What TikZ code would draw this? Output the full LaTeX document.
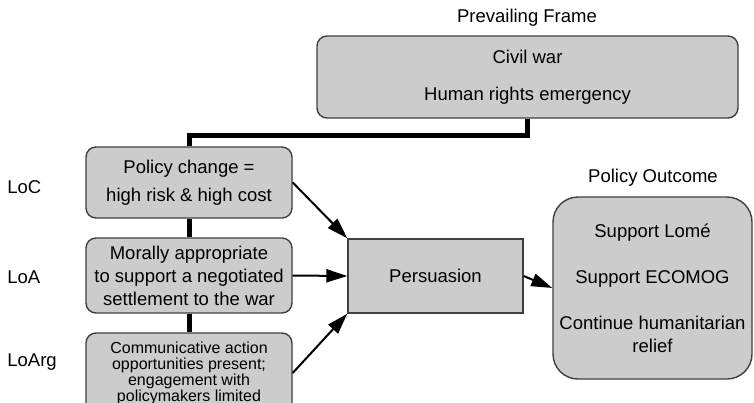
\documentclass[tikz,border=0pt]{standalone}
\usepackage{fontspec}
\setmainfont{Liberation Sans}
\usetikzlibrary{arrows.meta}

\tikzset{
  box/.style={draw=black!75, line width=0.7pt, fill=gray!40, rounded corners=5pt,
    align=center, inner sep=0pt, font=\fontsize{9.25}{11.5}\selectfont},
  link/.style={line width=2.5pt},
  push/.style={line width=1pt, -{Triangle[length=10.5pt,width=6.5pt]}},
  lbl/.style={font=\fontsize{9.25}{11}\selectfont, inner sep=0pt}
}

\begin{document}
\begin{tikzpicture}[x=0.5pt,y=-0.5pt]
\useasboundingbox (0,0) rectangle (754,402);
\begin{scope}
\clip (0,0) rectangle (754,402);

% prevailing frame
\node [lbl] (framelbl) at (527,18) {Prevailing Frame};
\node [box, minimum width=210.5pt, minimum height=41pt] (frame) at (527.5,77)
  {Civil war\\[7pt] Human rights emergency};

% logics on the left
\node [box, minimum width=103pt, minimum height=35.5pt,
  font=\fontsize{9.25}{14}\selectfont] (loc) at (189,182.5)
  {Policy change =\\ high risk \& high cost};
\node [box, minimum width=103pt, minimum height=37.5pt] (loa) at (189,275.5)
  {Morally appropriate\\ to support a negotiated\\ settlement to the war};
\node [box, minimum width=103pt, minimum height=40pt,
  font=\fontsize{8}{8}\selectfont] (loarg) at (189,373)
  {Communicative action\\ opportunities present;\\ engagement with\\ policymakers limited};

\node [lbl, anchor=west] (loclbl) at (7,187) {LoC};
\node [lbl, anchor=west] (loalbl) at (7,277) {LoA};
\node [lbl, anchor=west] (loarglbl) at (7,362) {LoArg};

% persuasion and outcome
\node [box, rounded corners=0pt, minimum width=87.5pt, minimum height=37pt] (pers) at (435.5,276)
  {Persuasion};
\node [lbl] (outlbl) at (653,178) {Policy Outcome};
\node [box, rounded corners=12.5pt, minimum width=99.5pt, minimum height=91pt] (out) at (652.5,288)
  {Support Lom\'e\\[11.5pt] Support ECOMOG\\[11.5pt] Continue humanitarian\\ relief};

% connectors
\draw [link] (frame.south) -- ++(0,17) -| (loc.north);
\draw [link] (loc.south) -- (loa.north);
\draw [link] (loa.south) -- (loarg.north);

\draw [push] (loc.east) -- (pers.north west);
\draw [push] (loa.east) -- (pers.west);
\draw [push] (loarg.east) -- (pers.south west);
\draw [push] (pers.east) -- (out.west);
\end{scope}

\end{tikzpicture}
\end{document}
